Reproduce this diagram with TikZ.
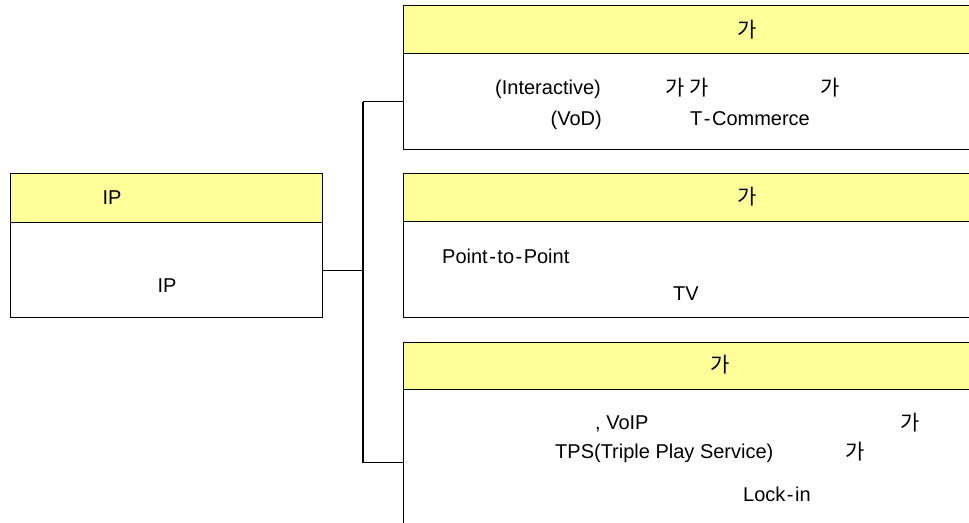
\documentclass[tikz,border=0pt]{standalone}
\usepackage{fontspec}
\setmainfont{Liberation Sans}
\newfontfamily\kr{Noto Sans CJK KR}
\definecolor{hdryellow}{HTML}{FFFF99}
\begin{document}
\begin{tikzpicture}[x=1pt,y=-1pt,
  hdr/.style={draw=black, line width=1.3pt, fill=hdryellow, anchor=north west, inner sep=0pt},
  bodybox/.style={draw=black, line width=1.3pt, fill=white, anchor=north west, inner sep=0pt},
  txt/.style={font=\fontsize{20}{24}\selectfont, inner sep=0pt},
  krt/.style={font=\kr\fontsize{21}{24}\selectfont, inner sep=0pt},
  link/.style={draw=black, line width=1.1pt}]
\useasboundingbox (0,0) rectangle (969,522);
\clip (0,0) rectangle (969,522);
% left box
\node[hdr, minimum width=312pt, minimum height=49pt] (lh) at (10,173) {};
\node[bodybox, minimum width=312pt, minimum height=95pt] (lb) at (10,222) {};
% right boxes
\node[hdr, minimum width=575pt, minimum height=48pt] (h1) at (403,5) {};
\node[bodybox, minimum width=575pt, minimum height=96pt] (b1) at (403,53) {};
\node[hdr, minimum width=575pt, minimum height=48pt] (h2) at (403,173) {};
\node[bodybox, minimum width=575pt, minimum height=96pt] (b2) at (403,221) {};
\node[hdr, minimum width=575pt, minimum height=47pt] (h3) at (403,342) {};
\node[bodybox, minimum width=575pt, minimum height=146pt] (b3) at (403,389) {};
% connectors
\coordinate (j) at (363,269);
\draw[link] (lb.east) -- (lb.east -| j);
\draw[link] (j |- b1.west) -- (j |- b3.west);
\draw[link] (j |- b1.west) -- (b1.west);
\draw[link] (j |- b3.west) -- (b3.west);
% left texts
\node[txt, anchor=base] (t1) at (112,204) {IP};
\node[txt, anchor=base] (t2) at (167,292) {IP};
% box 1
\node[krt, anchor=base] (k1) at (747,37) {가};
\node[txt, anchor=base west] (t3) at (495,94) {(Interactive)};
\node[krt, anchor=base west] (k2) at (665,95) {가 가};
\node[krt, anchor=base] (k3) at (830,95) {가};
\node[txt, anchor=base east] (t4) at (602,125) {(VoD)};
\node[txt, anchor=base west] (t5) at (690,125) {T\kern1.5pt-\kern1.5pt Commerce};
% box 2
\node[krt, anchor=base] (k4) at (747,204) {가};
\node[txt, anchor=base west] (t6) at (442,263) {Point\kern1.5pt-\kern1.5pt to\kern1.5pt-\kern1.5pt Point};
\node[txt, anchor=base] (t7) at (686,300) {TV};
% box 3
\node[krt, anchor=base] (k5) at (720,372) {가};
\node[txt, anchor=base west] (t8) at (595,429) {, VoIP};
\node[krt, anchor=base] (k6) at (910,430) {가};
\node[txt, anchor=base west] (t9) at (555,458) {TPS(Triple Play Service)};
\node[krt, anchor=base] (k7) at (855,459) {가};
\node[txt, anchor=base west] (t10) at (743,501) {Lock\kern1.5pt-\kern1.5pt in};
\end{tikzpicture}
\end{document}
